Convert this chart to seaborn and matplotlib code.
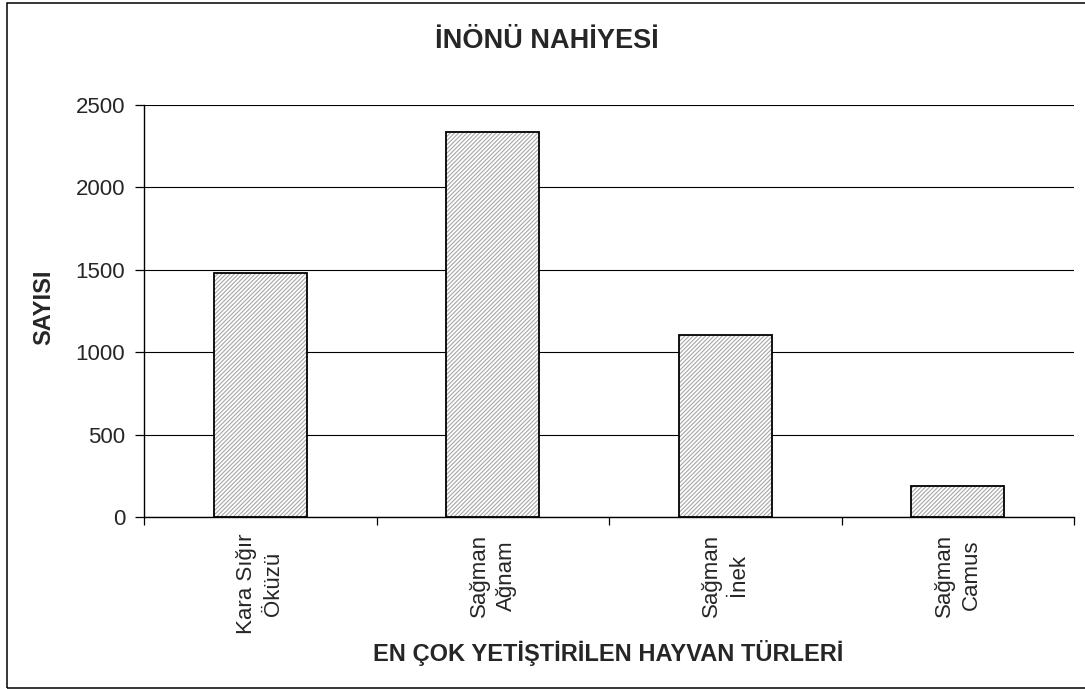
"""
İnönü nahiyesi - en çok yetiştirilen hayvan türleri (bar chart, Excel style).
"""
import matplotlib
matplotlib.use("Agg")
import matplotlib.pyplot as plt
import seaborn as sns
from matplotlib.patches import Rectangle
from matplotlib.ticker import FixedLocator

# data
categories = ["Kara Sığır\nÖküzü", "Sağman\nAğnam", "Sağman\nİnek", "Sağman\nCamus"]
counts = [1480, 2335, 1106, 191]
y_ticks = [0, 500, 1000, 1500, 2000, 2500]

title = "İNÖNÜ NAHİYESİ"
x_title = "EN ÇOK YETİŞTİRİLEN HAYVAN TÜRLERİ"
y_title = "SAYISI"

sns.set_style("white")
plt.rcParams["font.family"] = ["Liberation Sans", "DejaVu Sans"]
plt.rcParams["hatch.linewidth"] = 0.8

fig = plt.figure(figsize=(10.85, 6.89), dpi=100)
ax = fig.add_axes([144 / 1085, 1 - 517 / 689, 930 / 1085, 412 / 689])

# gridlines behind the bars
ax.set_axisbelow(True)
ax.yaxis.grid(True, color="black", linewidth=0.8)

# hatched fill (gray stripes), then black outline on top
sns.barplot(x=categories, y=counts, color="white", edgecolor="#a6a6a6",
            linewidth=0, hatch="////////", width=0.4, ax=ax)
sns.barplot(x=categories, y=counts, fill=False, color="black",
            linewidth=1.3, width=0.4, ax=ax)

ax.set_xlim(-0.5, len(categories) - 0.5)
ax.set_ylim(0, 2500)
ax.set_yticks(y_ticks)

# category boundaries get the ticks, labels stay centered under bars
ax.xaxis.set_minor_locator(FixedLocator([i - 0.5 for i in range(len(categories) + 1)]))
ax.tick_params(axis="x", which="major", length=0, pad=12, labelsize=16)
ax.tick_params(axis="x", which="minor", length=6, width=0.9, color="black",
               direction="out", bottom=True)
ax.tick_params(axis="y", length=6.5, width=0.9, color="black", direction="out",
               pad=7, labelsize=16, left=True)
for lbl in ax.get_xticklabels():
    lbl.set_rotation(90)
    lbl.set_ha("center")
    lbl.set_va("top")
    lbl.set_multialignment("center")
    lbl.set_linespacing(1.4)

sns.despine(ax=ax, top=True, right=True)
for side in ["left", "bottom"]:
    ax.spines[side].set_color("black")
    ax.spines[side].set_linewidth(1.0)

ax.set_xlabel(x_title, fontsize=17, fontweight="bold")
ax.xaxis.set_label_coords((608 - 144) / 930, -(653 - 517) / 412)
ax.xaxis.label.set_va("center")
ax.set_ylabel(y_title, fontsize=17, fontweight="bold")
ax.yaxis.set_label_coords((43.5 - 144) / 930, 0.51)
ax.yaxis.label.set_va("center")

fig.text(547 / 1085, 1 - 40.5 / 689, title, fontsize=19.5, fontweight="bold",
         ha="center", va="center")

# chart area border (right edge runs off the image)
fig.patches.append(Rectangle((7.3 / 1085, 1 - 687.7 / 689), 1.05, 685 / 689,
                             transform=fig.transFigure, fill=False,
                             edgecolor="black", linewidth=1.1))

fig.savefig("out.png", dpi=100)
